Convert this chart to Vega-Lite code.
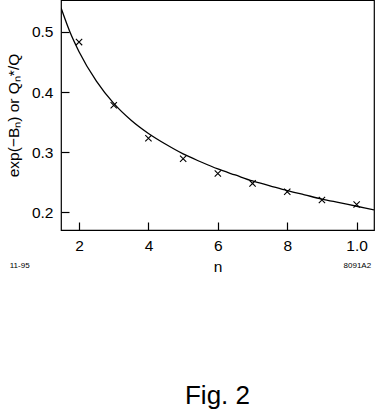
{
  "$schema": "https://vega.github.io/schema/vega-lite/v6.json",
  "autosize": "none",
  "width": 313,
  "height": 230,
  "padding": {"left": 61, "top": 0, "right": 1, "bottom": 185},
  "background": "white",
  "config": {
    "view": {"stroke": "black", "strokeWidth": 1.2},
    "font": "Liberation Sans",
    "axis": {
      "domain": false, "grid": false, "ticks": true, "tickColor": "black", "tickWidth": 1.2,
      "labelColor": "black", "titleColor": "black",
      "labelFont": "Liberation Sans", "titleFont": "Liberation Sans",
      "labelFontSize": 15.5, "titleFontSize": 15.5, "titleFontWeight": "normal",
      "tickSize": -8, "labelPadding": 16
    }
  },
  "title": {"text": "Fig. 2", "orient": "bottom", "offset": 108, "fontSize": 26, "fontWeight": "normal", "font": "Liberation Sans", "color": "black"},
  "layer": [
    {
      "data": {"values": [
        {"n": 1.48, "v": 0.540}, {"n": 1.75, "v": 0.498}, {"n": 2, "v": 0.467},
        {"n": 2.5, "v": 0.418}, {"n": 3, "v": 0.381}, {"n": 3.5, "v": 0.353},
        {"n": 4, "v": 0.331}, {"n": 4.5, "v": 0.313}, {"n": 5, "v": 0.297},
        {"n": 5.5, "v": 0.284}, {"n": 6, "v": 0.272}, {"n": 6.5, "v": 0.262},
        {"n": 7, "v": 0.252}, {"n": 7.5, "v": 0.244}, {"n": 8, "v": 0.236},
        {"n": 8.5, "v": 0.229}, {"n": 9, "v": 0.222}, {"n": 9.5, "v": 0.216},
        {"n": 10, "v": 0.210}, {"n": 10.5, "v": 0.204}
      ]},
      "mark": {"type": "line", "color": "black", "strokeWidth": 1.3, "interpolate": "monotone", "clip": true},
      "encoding": {
        "x": {"field": "n", "type": "quantitative", "scale": {"domain": [1.48, 10.5], "nice": false, "zero": false},
          "axis": {"orient": "bottom", "values": [2, 3, 4, 5, 6, 7, 8, 9, 10], "title": "n", "titlePadding": 6,
            "labelExpr": "datum.value == 10 ? '1.0' : (datum.value % 2 == 0 ? datum.label : '')"}},
        "y": {"field": "v", "type": "quantitative", "scale": {"domain": [0.1705, 0.553], "nice": false, "zero": false},
          "axis": {"orient": "left", "values": [0.2, 0.3, 0.4, 0.5], "format": ".1f", "title": "exp(−Bₙ) or Qₙ*/Q", "titlePadding": 10}}
      }
    },
    {
      "data": {"values": [
        {"n": 2, "v": 0.483}, {"n": 3, "v": 0.378}, {"n": 4, "v": 0.323},
        {"n": 5, "v": 0.289}, {"n": 6, "v": 0.2645}, {"n": 7, "v": 0.248},
        {"n": 8, "v": 0.234}, {"n": 9, "v": 0.2205}, {"n": 10, "v": 0.2128}
      ]},
      "mark": {"type": "point", "shape": "M-1,-1L1,1M-1,1L1,-1", "filled": false, "color": "black", "size": 40, "strokeWidth": 1.1, "opacity": 1},
      "encoding": {
        "x": {"field": "n", "type": "quantitative"},
        "y": {"field": "v", "type": "quantitative"}
      }
    },
    {
      "data": {"values": [
        {"n": 0.29, "v": 0.1105, "label": "11-95"},
        {"n": 10.02, "v": 0.1105, "label": "8091A2"}
      ]},
      "mark": {"type": "text", "fontSize": 8, "font": "Liberation Sans", "color": "black", "baseline": "middle", "align": "center"},
      "encoding": {
        "x": {"field": "n", "type": "quantitative"},
        "y": {"field": "v", "type": "quantitative"},
        "text": {"field": "label"}
      }
    }
  ]
}
